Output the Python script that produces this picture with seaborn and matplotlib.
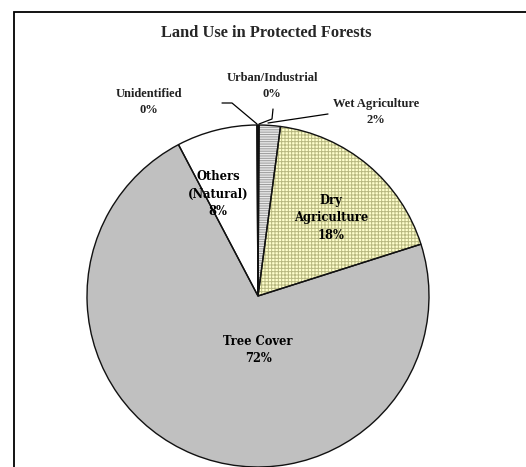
import matplotlib
matplotlib.use("Agg")
import matplotlib.pyplot as plt
import seaborn as sns
from matplotlib.patches import Rectangle

sns.set_theme(style="white")

categories = ["Urban/Industrial", "Wet Agriculture", "Dry\nAgriculture",
              "Tree Cover", "Others\n(Natural)", "Unidentified"]
values = [0.1, 2.0, 18.0, 72.2, 7.6, 0.1]
fill_colors = ["#DDDDDD", "#E8E8E8", "#FFFFCC", "#C0C0C0", "#FFFFFF", "#FFFFFF"]
hatches = [None, "-------", "+++++", None, None, None]
hatch_colors = ["none", "#9A9A9A", "#B8B880", "none", "none", "none"]
title = "Land Use in Protected Forests"

W, H = 526, 467
CX, CY, R = 258, 296, 171

fig = plt.figure(figsize=(W / 100, H / 100), dpi=100)
ax = fig.add_axes([0, 0, 1, 1])


def P(px, py):
    return (px - CX) / R, (CY - py) / R


# fills
wedges, _ = ax.pie(values, colors=fill_colors, startangle=90, counterclock=False,
                   radius=1.0, wedgeprops=dict(linewidth=0))
# hatch overlay
plt.rcParams["hatch.linewidth"] = 0.7
hw, _ = ax.pie(values, colors=["none"] * len(values), startangle=90,
               counterclock=False, radius=1.0, wedgeprops=dict(linewidth=0))
for w, h, hc in zip(hw, hatches, hatch_colors):
    if h:
        w.set_hatch(h)
        w.set_edgecolor(hc)
        w.set_facecolor("none")
# outlines
ow, _ = ax.pie(values, colors=["none"] * len(values), startangle=90,
               counterclock=False, radius=1.0,
               wedgeprops=dict(linewidth=1.0, edgecolor="#111111", fill=False))

ax.set_xlim((0 - CX) / R, (W - CX) / R)
ax.set_ylim((CY - H) / R, CY / R)
ax.set_aspect("equal")
ax.axis("off")

total = sum(values)
pct = [f"{v / total * 100:.0f}%" for v in values]

# frame
ax.add_patch(Rectangle(P(14, 600), (W + 20) / R, (600 - 12) / R, fill=False,
                       edgecolor="black", linewidth=1.3, clip_on=True, zorder=0))

serif = ["Liberation Serif", "DejaVu Serif"]
ax.text(*P(266, 33), title, ha="center", va="center", fontsize=11.8,
        fontweight="bold", family=serif)

# inside labels
inside = {2: (331, 218), 3: (258, 350), 4: (218, 194)}
for i, (px, py) in inside.items():
    ax.text(*P(px, py), f"{categories[i]}\n{pct[i]}", ha="center", va="center",
            fontsize=8.3, fontweight="bold", family="DejaVu Serif",
            linespacing=1.45, color="black")

# outside labels
outside = {0: (272, 86), 1: (376, 112), 5: (149, 102)}
for i, (px, py) in outside.items():
    ax.text(*P(px, py), f"{categories[i]}\n{pct[i]}", ha="center", va="center",
            fontsize=9.0, fontweight="bold", family=serif, linespacing=1.4,
            color="#222222")

# leader lines
lines = [
    [(273, 109), (272, 119), (259, 124)],
    [(328, 114), (268, 123)],
    [(222, 103), (232, 103), (257, 124)],
]
for pts in lines:
    xs, ys = zip(*[P(x, y) for x, y in pts])
    ax.plot(xs, ys, color="black", linewidth=0.9)

fig.savefig("out.png", dpi=100)
